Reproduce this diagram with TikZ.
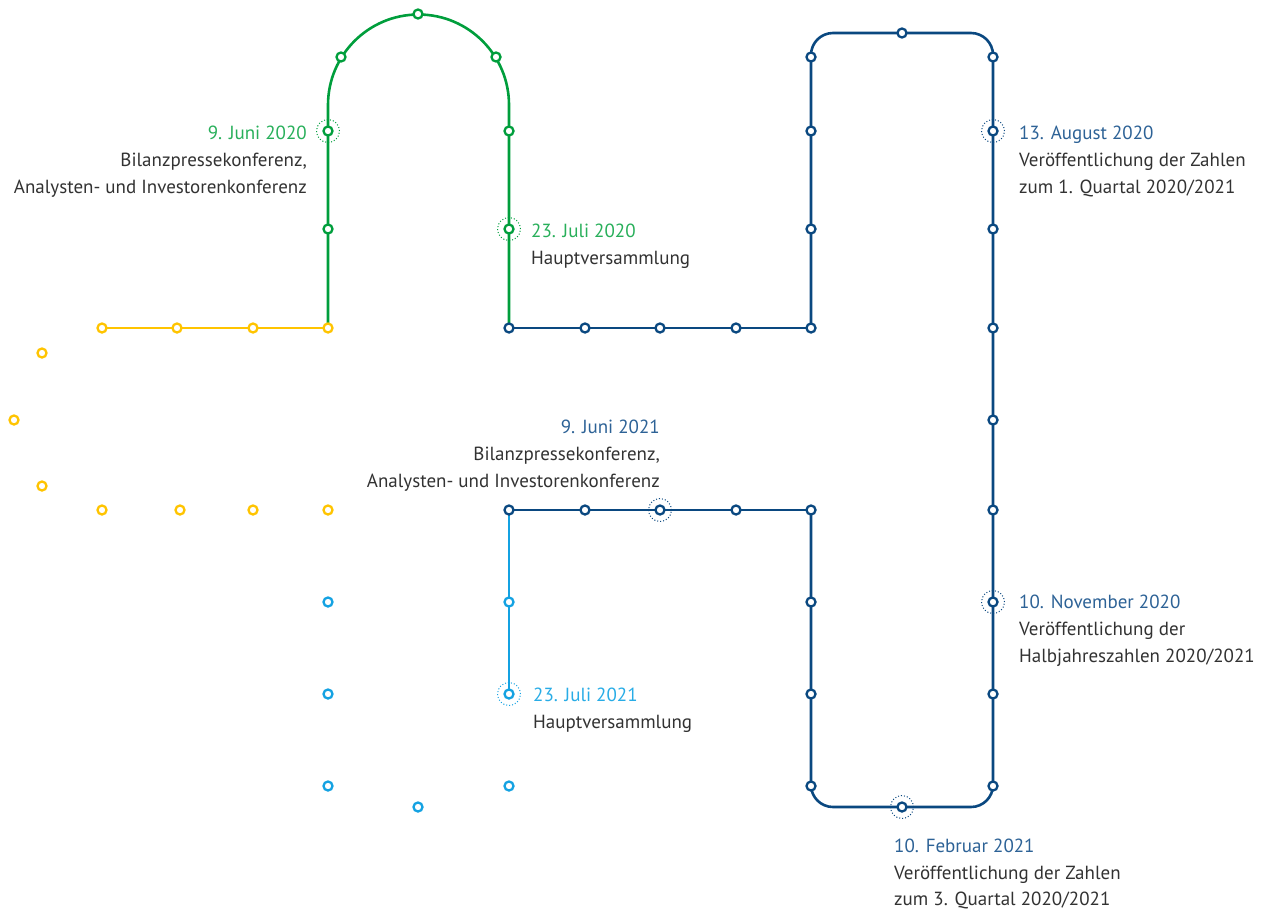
\documentclass[tikz,border=0pt]{standalone}
\usepackage{fontspec}
\setmainfont{PT Sans}
\usetikzlibrary{backgrounds}
\definecolor{cgreen}{RGB}{0,158,60}
\definecolor{cgreentxt}{RGB}{40,175,90}
\definecolor{cyellow}{RGB}{255,196,0}
\definecolor{cblue}{RGB}{10,72,128}
\definecolor{cbluetxt}{RGB}{45,98,150}
\definecolor{ccyan}{RGB}{20,162,226}
\definecolor{ccyantxt}{RGB}{40,172,230}
\definecolor{ctxt}{RGB}{50,50,50}
\tikzset{
  stop/.style={circle,draw=#1,fill=white,line width=2.3pt,minimum size=9pt,inner sep=0pt,outer sep=0pt},
  halo/.style={circle,draw=#1,line width=1pt,dash pattern=on 1pt off 2pt,minimum size=23pt,inner sep=0pt},
  route/.style={draw=#1,line width=2.6pt},
  lbl/.style={font=\fontsize{19}{27}\selectfont,inner sep=0pt,text=ctxt},
}
\begin{document}
\begin{tikzpicture}[x=1pt,y=-1pt]
\useasboundingbox (0,0) rectangle (1282,908);
% yellow stops
\foreach \n/\px/\py in {y1/102/328,y2/177/328,y3/253/328,y4/328/328,
  ya/42/353,yb/14/420,yc/42/486,yd/102/510,ye/180/510,yf/253/510,yg/328/510}
  \node[stop=cyellow] (\n) at (\px,\py) {};
% green stops
\foreach \n/\px/\py in {g1/328/229,g2/328/131,g3/341/57,g4/418/14,g5/496/57,g6/509/131,g7/509/229}
  \node[stop=cgreen] (\n) at (\px,\py) {};
% dark blue stops
\foreach \n/\px/\py in {b0/509/328,b1/585/328,b2/660/328,b3/736/328,b4/811/328,
  b5/811/229,b6/811/131,b7/811/57,b8/902/33,b9/993/57,b10/993/131,b11/993/229,
  b12/993/328,b13/993/420,b14/993/510,b15/993/602,b16/993/694,b17/993/786,
  b18/902/807,b19/811/786,b20/811/694,b21/811/602,b22/811/510,
  b23/736/510,b24/660/510,b25/585/510,b26/509/510}
  \node[stop=cblue] (\n) at (\px,\py) {};
% cyan stops
\foreach \n/\px/\py in {c1/509/602,c2/509/694,ca/328/602,cb/328/694,cc/328/786,cd/418/807,ce/509/786}
  \node[stop=ccyan] (\n) at (\px,\py) {};
% halos
\node[halo=cgreen] (h1) at (g2) {};
\node[halo=cgreen] (h2) at (g7) {};
\node[halo=cblue] (h3) at (b10) {};
\node[halo=cblue] (h4) at (b15) {};
\node[halo=cblue] (h5) at (b18) {};
\node[halo=cblue] (h6) at (b24) {};
\node[halo=ccyan] (h7) at (c2) {};
% routes
\begin{scope}[on background layer]
  \draw[route=cyellow] (y1.center) -- (y4.center);
  \draw[route=cgreen] (y4.center) -- (328,105) arc[start angle=180,end angle=360,radius=90.5] -- (b0.center);
  \draw[route=cblue] (b0.center) -- (b4.center);
  \draw[route=cblue,rounded corners=22] (b4.center) -- (811,33) -- (993,33) -- (993,807) -- (811,807) -- (b22.center);
  \draw[route=cblue] (b22.center) -- (b26.center);
  \draw[route=ccyan] (b26.center) -- (c2.center);
\end{scope}
% labels
\node[lbl,anchor=base east,text=cgreentxt] (t1a) at (307,139) {9. Juni 2020};
\node[lbl,anchor=base east] (t1b) at (307,166) {Bilanzpressekonferenz,};
\node[lbl,anchor=base east] (t1c) at (307,193) {Analysten- und Investorenkonferenz};
\node[lbl,anchor=base west,text=cgreentxt] (t2a) at (531,237) {23. Juli 2020};
\node[lbl,anchor=base west] (t2b) at (531,264) {Hauptversammlung};
\node[lbl,anchor=base west,text=cbluetxt] (t3a) at (1019,139) {13. August 2020};
\node[lbl,anchor=base west] (t3b) at (1019,166) {Veröffentlichung der Zahlen};
\node[lbl,anchor=base west] (t3c) at (1019,193) {zum 1. Quartal 2020/2021};
\node[lbl,anchor=base east,text=cbluetxt] (t4a) at (660,433) {9. Juni 2021};
\node[lbl,anchor=base east] (t4b) at (660,460) {Bilanzpressekonferenz,};
\node[lbl,anchor=base east] (t4c) at (660,487) {Analysten- und Investorenkonferenz};
\node[lbl,anchor=base west,text=cbluetxt] (t5a) at (1019,608) {10. November 2020};
\node[lbl,anchor=base west] (t5b) at (1019,635) {Veröffentlichung der};
\node[lbl,anchor=base west] (t5c) at (1019,662) {Halbjahreszahlen 2020/2021};
\node[lbl,anchor=base west,text=ccyantxt] (t6a) at (533,701) {23. Juli 2021};
\node[lbl,anchor=base west] (t6b) at (533,728) {Hauptversammlung};
\node[lbl,anchor=base west,text=cbluetxt] (t7a) at (894,852) {10. Februar 2021};
\node[lbl,anchor=base west] (t7b) at (894,879) {Veröffentlichung der Zahlen};
\node[lbl,anchor=base west] (t7c) at (894,905) {zum 3. Quartal 2020/2021};
\end{tikzpicture}
\end{document}
